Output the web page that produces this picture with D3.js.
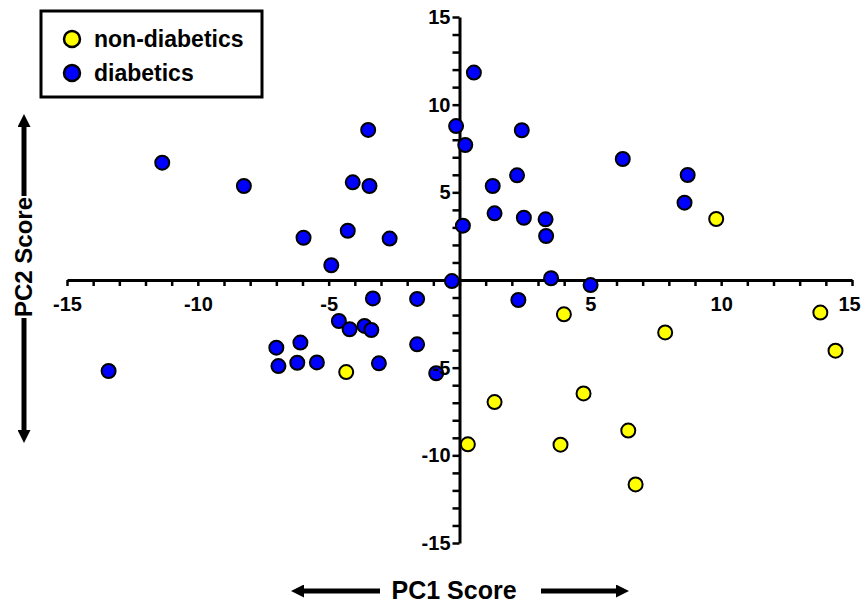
<!DOCTYPE html>
<html>
<head>
<meta charset="utf-8">
<script src="https://cdn.jsdelivr.net/npm/d3@7"></script>
<style>
  body { margin: 0; background: #fff; }
  svg { display: block; font-family: Arial, "Liberation Sans", Helvetica, sans-serif; font-weight: bold; }
</style>
</head>
<body>
<svg id="myGraph" width="862" height="605"></svg>
<script>
// データ（PC1, PC2 スコア）
var nonDiabeticsPC1 = [9.81, -4.33, 3.99, 7.86, 13.79, 14.37, 4.74, 1.34, 0.32, 3.86, 6.45, 6.73];
var nonDiabeticsPC2 = [3.48, -5.25, -1.96, -2.99, -1.86, -4.03, -6.47, -6.96, -9.37, -9.39, -8.59, -11.66];

var diabeticsPC1 = [-11.36, -8.24, -3.49, -4.08, -3.44, -5.96, -4.27, -2.67, -4.90,
	0.55, -0.13, 0.22, 2.38, 6.24, 2.20, 1.27, 8.72, 8.60, 1.34, 2.46, 3.29, 3.31, 0.13,
	3.50, -0.29, 5.01, 2.25,
	-13.41, -7.00, -6.08, -6.92, -6.20, -5.45, -4.61, -4.20, -3.63, -3.37, -3.31, -3.08,
	-1.62, -1.62, -0.89];
var diabeticsPC2 = [6.69, 5.36, 8.56, 5.57, 5.36, 2.41, 2.81, 2.36, 0.84,
	11.83, 8.78, 7.70, 8.54, 6.90, 5.97, 5.36, 5.99, 4.41, 3.80, 3.55, 3.46, 2.51, 3.10,
	0.10, -0.06, -0.29, -1.14,
	-5.19, -3.86, -3.57, -4.91, -4.72, -4.70, -2.34, -2.81, -2.62, -2.85, -1.05, -4.75,
	-1.08, -3.67, -5.32];

var seriesNames = ["non-diabetics", "diabetics"];
var seriesColors = ["#ffff00", "#0000ff"];
var tickLabels = [-15, -10, -5, 5, 10, 15];

var svg = d3.select("#myGraph");

var x = d3.scaleLinear().domain([-15, 15]).range([67, 852]);
var y = d3.scaleLinear().domain([-15, 15]).range([543, 17]);

var ticks = d3.range(-15, 16);
function fmt(d){ return tickLabels.indexOf(d) >= 0 ? d : ""; }

// 軸（線と目盛り）
svg.append("g")
	.attr("transform", "translate(0," + y(0) + ")")
	.call(d3.axisBottom(x).tickValues(ticks).tickSize(6).tickSizeOuter(0).tickFormat(""));
svg.append("g")
	.attr("transform", "translate(" + x(0) + ",0)")
	.call(d3.axisLeft(y).tickValues(ticks).tickSize(7).tickSizeOuter(0).tickFormat(""));
svg.selectAll(".domain").attr("stroke", "#000").attr("stroke-width", 3);
svg.selectAll(".tick line").attr("stroke", "#000").attr("stroke-width", 2.5);

// 点
function toPoints(xs, ys){
	return xs.map(function(d, i){ return {x: d, y: ys[i]}; });
}
var groups = [
	{name: seriesNames[1], color: seriesColors[1], pts: toPoints(diabeticsPC1, diabeticsPC2)},
	{name: seriesNames[0], color: seriesColors[0], pts: toPoints(nonDiabeticsPC1, nonDiabeticsPC2)}
];
groups.forEach(function(g){
	svg.append("g").selectAll("circle")
		.data(g.pts)
		.enter()
		.append("circle")
		.attr("cx", function(d){ return x(d.x); })
		.attr("cy", function(d){ return y(d.y); })
		.attr("r", 7)
		.attr("fill", g.color)
		.attr("stroke", "#000")
		.attr("stroke-width", 2);
});

// 目盛りラベル（点の上に描く）
var xLab = svg.append("g")
	.attr("transform", "translate(0," + y(0) + ")")
	.call(d3.axisBottom(x).tickValues(ticks).tickSize(6).tickPadding(11).tickSizeOuter(0).tickFormat(fmt));
var yLab = svg.append("g")
	.attr("transform", "translate(" + x(0) + ",0)")
	.call(d3.axisLeft(y).tickValues(ticks).tickSize(7).tickPadding(2).tickSizeOuter(0).tickFormat(fmt));
[xLab, yLab].forEach(function(g){
	g.select(".domain").remove();
	g.selectAll(".tick line").remove();
	g.selectAll("text")
		.attr("fill", "#000")
		.style("font-size", "20px")
		.style("font-family", "Arial, 'Liberation Sans', sans-serif")
		.style("font-weight", "bold");
});
// 右端の「15」がはみ出さないように少し左へ
xLab.selectAll("text").filter(function(d){ return d === 15; }).attr("x", -3);

// 矢印
svg.append("defs").append("marker")
	.attr("id", "arrow")
	.attr("viewBox", "0 0 10 10")
	.attr("refX", 0).attr("refY", 5)
	.attr("markerWidth", 4.4).attr("markerHeight", 2.6)
	.attr("markerUnits", "strokeWidth")
	.attr("orient", "auto")
	.append("path")
	.attr("d", "M0,0L10,5L0,10Z")
	.attr("fill", "#000");

function arrow(x1, y1, x2, y2){
	svg.append("line")
		.attr("x1", x1).attr("y1", y1)
		.attr("x2", x2).attr("y2", y2)
		.attr("stroke", "#000")
		.attr("stroke-width", 5)
		.attr("marker-end", "url(#arrow)");
}

// X軸タイトル
svg.append("text")
	.attr("x", 454).attr("y", 599)
	.attr("text-anchor", "middle")
	.style("font-size", "25px")
	.text("PC1 Score");
arrow(380, 591, 304, 591);
arrow(541, 591, 616, 591);

// Y軸タイトル
svg.append("text")
	.attr("transform", "translate(32,257) rotate(-90)")
	.attr("text-anchor", "middle")
	.style("font-size", "24px")
	.text("PC2 Score");
arrow(24, 196, 24, 127);
arrow(24, 318, 24, 430);

// 凡例
var legend = svg.append("g");
legend.append("rect")
	.attr("x", 41).attr("y", 11)
	.attr("width", 221).attr("height", 86)
	.attr("fill", "#fff")
	.attr("stroke", "#000")
	.attr("stroke-width", 3);
seriesNames.forEach(function(name, i){
	legend.append("circle")
		.attr("cx", 72).attr("cy", 39 + i * 34)
		.attr("r", 8)
		.attr("fill", seriesColors[i])
		.attr("stroke", "#000")
		.attr("stroke-width", 2.5);
	legend.append("text")
		.attr("x", 94).attr("y", 39 + i * 34)
		.attr("dy", "0.35em")
		.style("font-size", "23px")
		.text(name);
});
</script>
</body>
</html>
